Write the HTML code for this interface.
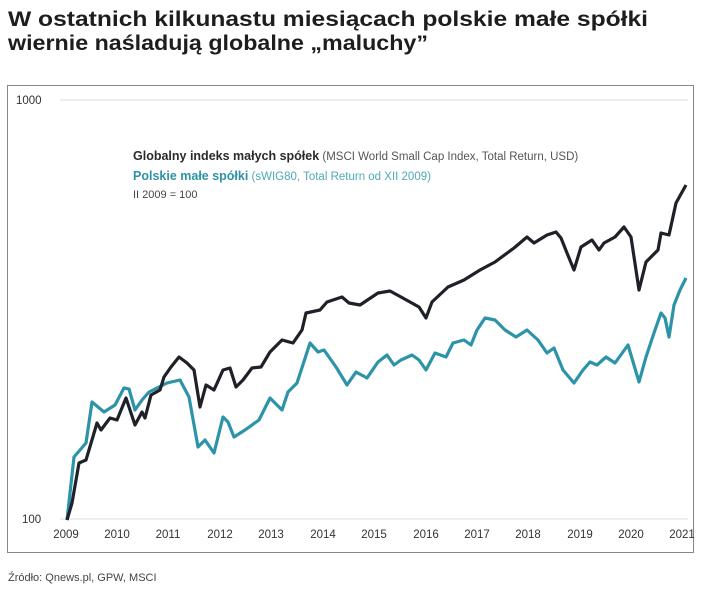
<!DOCTYPE html>
<html><head><meta charset="utf-8"><style>
body{margin:0;background:#fff;width:706px;height:593px;overflow:hidden;font-family:"Liberation Sans",sans-serif;}
</style></head><body>
<svg width="706" height="593" xmlns="http://www.w3.org/2000/svg" font-family="Liberation Sans, sans-serif">
<text x="8" y="26" font-size="21" font-weight="bold" fill="#1d1d1d" textLength="640" lengthAdjust="spacingAndGlyphs">W ostatnich kilkunastu miesiącach polskie małe spółki</text>
<text x="8" y="50" font-size="21" font-weight="bold" fill="#1d1d1d" textLength="420" lengthAdjust="spacingAndGlyphs">wiernie naśladują globalne „maluchy”</text>
<rect x="7.5" y="85.5" width="686" height="467" fill="none" stroke="#888" stroke-width="1"/>
<line x1="60" y1="100" x2="688" y2="100" stroke="#ddd"/>
<line x1="60" y1="519" x2="688" y2="519" stroke="#ddd"/>
<text x="16" y="104" font-size="11.5" fill="#333">1000</text>
<text x="22" y="523" font-size="11.5" fill="#333">100</text>
<g font-size="11.5" fill="#333" text-anchor="middle">
<text x="66" y="538">2009</text><text x="117" y="538">2010</text><text x="168" y="538">2011</text><text x="220" y="538">2012</text><text x="271" y="538">2013</text><text x="323" y="538">2014</text><text x="374" y="538">2015</text><text x="426" y="538">2016</text><text x="477" y="538">2017</text><text x="528" y="538">2018</text><text x="580" y="538">2019</text><text x="631" y="538">2020</text><text x="682" y="538">2021</text>
</g>
<text x="133" y="160" font-size="12.5"><tspan font-weight="bold" fill="#2a2a2a">Globalny indeks małych spółek</tspan><tspan fill="#555" font-size="11.5"> (MSCI World Small Cap Index, Total Return, USD)</tspan></text>
<text x="133" y="180" font-size="12.5"><tspan font-weight="bold" fill="#2f93a6">Polskie małe spółki</tspan><tspan fill="#4fa9b8" font-size="11.5"> (sWIG80, Total Return od XII 2009)</tspan></text>
<text x="133" y="198" font-size="11" fill="#444">II 2009 = 100</text>
<polyline fill="none" stroke="#2d93a8" stroke-width="3.2" stroke-linejoin="round" points="67,520 74,457 86,443 92,402 104,412 115,405 124,388 129,389 135,410 142,400 149,392 167,383 180,380 189,397 198,447 205,440 214,453 223,417 228,422 234,437 245,430 259,420 270,398 282,410 288,392 297,383 310,343 318,352 324,350 336,367 347,385 356,372 367,378 378,362 387,355 394,365 401,360 412,355 419,360 426,370 435,353 446,357 453,343 464,340 471,345 477,330 485,318 495,320 505,330 516,337 527,330 538,340 547,353 554,348 563,370 574,383 583,370 590,362 597,365 606,357 615,363 628,345 639,382 646,357 655,330 661,313 665,318 669,337 674,305 680,290 686,278"/>
<polyline fill="none" stroke="#1f2128" stroke-width="3.2" stroke-linejoin="round" points="67,520 72,503 79,463 86,460 97,423 101,430 110,418 117,420 126,398 135,425 142,412 145,418 151,395 160,390 164,377 171,367 179,357 187,363 194,370 200,407 206,385 214,390 223,370 230,368 236,387 243,380 252,368 261,367 270,352 282,340 293,343 302,330 306,313 320,310 327,302 342,297 349,303 360,305 378,293 390,291 401,297 419,307 426,318 432,302 448,287 464,280 480,270 495,262 514,248 527,237 534,243 547,235 556,232 561,238 567,253 574,270 581,247 592,240 599,250 604,243 615,237 624,227 631,237 639,290 646,262 658,250 661,233 669,235 676,203 686,185"/>
<text x="8" y="581" font-size="11" fill="#444">Źródło: Qnews.pl, GPW, MSCI</text>
</svg>
</body></html>
